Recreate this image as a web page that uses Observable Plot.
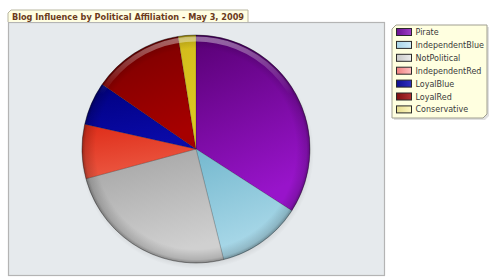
<!DOCTYPE html>
<html>
<head>
<meta charset="utf-8">
<script src="https://cdn.jsdelivr.net/npm/d3@7"></script>
<script src="https://cdn.jsdelivr.net/npm/@observablehq/plot@0.6"></script>
<style>
  html, body { margin: 0; padding: 0; background: #ffffff; }
  #chart svg { display: block; }
</style>
</head>
<body>
<div id="chart"></div>
<script>
// ---- data ----
const title = "Blog Influence by Political Affiliation - May 3, 2009";
const categories = ["Pirate", "IndependentBlue", "NotPolitical", "IndependentRed", "LoyalBlue", "LoyalRed", "Conservative"];
const values = [34.1, 12.0, 24.7, 7.7, 6.1, 12.9, 2.5];
// slice gradient colours (top, bottom)
const sliceTop    = ["#580074", "#74b8ce", "#a2a2a2", "#de2c18", "#000080", "#760000", "#d2ba1a"];
const sliceBottom = ["#9814ca", "#acdaea", "#d0d0d0", "#ec5842", "#0a0aa8", "#a60000", "#dcc822"];
// legend swatch colours (dark, light)
const swatchDark  = ["#6a1090", "#a8d4e8", "#c8c8c8", "#f08080", "#101090", "#801010", "#e6dc90"];
const swatchLight = ["#a040c8", "#d0ecf8", "#ececec", "#ffc0c0", "#3030c0", "#b03030", "#fff8c0"];

const slices = categories.map((c, i) => ({category: c, value: values[i], i}));

const FONT = "'DejaVu Sans', Verdana, sans-serif";

function svgEl(tag, attrs) {
  const e = document.createElementNS("http://www.w3.org/2000/svg", tag);
  for (const k in attrs) e.setAttribute(k, attrs[k]);
  return e;
}

// pie mark: uses the x/y scales for centre and radius
function pieMark(index, scales) {
  const {x, y} = scales;
  const cx = x(0), cy = y(0), R = x(1) - x(0);
  const g = svgEl("g", {});
  const defs = svgEl("defs", {});
  g.appendChild(defs);
  slices.forEach(d => {
    const lg = svgEl("linearGradient", {id: "sg" + d.i, x1: 0, y1: 0, x2: 0.3, y2: 1});
    lg.appendChild(svgEl("stop", {offset: "0", "stop-color": sliceTop[d.i]}));
    lg.appendChild(svgEl("stop", {offset: "1", "stop-color": sliceBottom[d.i]}));
    defs.appendChild(lg);
  });
  const rim = svgEl("radialGradient", {id: "rim", cx: 0.5, cy: 0.5, r: 0.5});
  rim.appendChild(svgEl("stop", {offset: "0.88", "stop-color": "#000", "stop-opacity": 0}));
  rim.appendChild(svgEl("stop", {offset: "0.97", "stop-color": "#000", "stop-opacity": 0.15}));
  rim.appendChild(svgEl("stop", {offset: "1", "stop-color": "#000", "stop-opacity": 0.35}));
  defs.appendChild(rim);
  const hl = svgEl("linearGradient", {id: "hl", x1: 0, y1: 0, x2: 0, y2: 1});
  hl.appendChild(svgEl("stop", {offset: "0", "stop-color": "#fff", "stop-opacity": 0.4}));
  hl.appendChild(svgEl("stop", {offset: "0.25", "stop-color": "#fff", "stop-opacity": 0}));
  defs.appendChild(hl);
  const sh = svgEl("radialGradient", {id: "shadow", cx: 0.5, cy: 0.5, r: 0.5});
  sh.appendChild(svgEl("stop", {offset: "0.9", "stop-color": "#000", "stop-opacity": 0.15}));
  sh.appendChild(svgEl("stop", {offset: "1", "stop-color": "#000", "stop-opacity": 0}));
  defs.appendChild(sh);

  // soft shadow
  g.appendChild(svgEl("circle", {cx: cx + 1, cy: cy + 3, r: R + 3, fill: "url(#shadow)"}));

  const pie = d3.pie().sort(null).value(d => d.value);
  const arc = d3.arc().innerRadius(0).outerRadius(R);
  const gs = svgEl("g", {transform: `translate(${cx},${cy})`});
  pie(slices).forEach(a => {
    gs.appendChild(svgEl("path", {
      d: arc(a), fill: `url(#sg${a.data.i})`,
      stroke: "rgba(0,0,0,0.28)", "stroke-width": 0.6, "stroke-linejoin": "round"
    }));
  });
  g.appendChild(gs);
  // edge darkening
  g.appendChild(svgEl("circle", {cx, cy, r: R, fill: "url(#rim)"}));
  // top highlight band
  g.appendChild(svgEl("circle", {cx, cy, r: R - 4, fill: "none", stroke: "url(#hl)", "stroke-width": 5}));
  // outline
  g.appendChild(svgEl("circle", {cx, cy, r: R, fill: "none", stroke: "rgba(0,0,0,0.3)", "stroke-width": 0.8}));
  return g;
}

// title tab
function titleMark() {
  const g = svgEl("g", {});
  const x0 = 8, x1 = 248, y0 = 10, y1 = 22, c = 3;
  g.appendChild(svgEl("path", {
    d: `M${x0},${y1}V${y0 + c}L${x0 + c},${y0}H${x1}V${y1}`,
    fill: "#fffee2", stroke: "#b9b6a0", "stroke-width": 1
  }));
  const t = svgEl("text", {
    x: 12, y: 19.5, fill: "#6b3a1c", "font-family": FONT, "font-weight": "bold",
    "font-size": 8, "text-anchor": "start", textLength: 232, lengthAdjust: "spacingAndGlyphs"
  });
  t.textContent = title;
  g.appendChild(t);
  return g;
}

// legend box
function legendMark() {
  const g = svgEl("g", {});
  const x0 = 392, x1 = 487, y0 = 25, y1 = 118, c = 4;
  const defs = svgEl("defs", {});
  g.appendChild(defs);
  g.appendChild(svgEl("path", {
    d: `M${x0 + c + 2},${y0 + 2}H${x1 + 2}V${y1 + 2 - c}L${x1 + 2 - c},${y1 + 2}H${x0 + 2}V${y0 + c + 2}Z`,
    fill: "rgba(0,0,0,0.12)"
  }));
  g.appendChild(svgEl("path", {
    d: `M${x0 + c},${y0}H${x1}V${y1 - c}L${x1 - c},${y1}H${x0}V${y0 + c}Z`,
    fill: "#ffffe0", stroke: "#a09f90", "stroke-width": 1
  }));
  categories.forEach((cat, i) => {
    const lg = svgEl("linearGradient", {id: "lg" + i, x1: 0, y1: 0, x2: 1, y2: 0});
    lg.appendChild(svgEl("stop", {offset: "0", "stop-color": swatchDark[i]}));
    lg.appendChild(svgEl("stop", {offset: "1", "stop-color": swatchLight[i]}));
    defs.appendChild(lg);
    const cy = 32 + i * 12.9;
    g.appendChild(svgEl("rect", {
      x: 396.5, y: cy - 3.5, width: 15, height: 7, fill: `url(#lg${i})`,
      stroke: "#2a2a2a", "stroke-width": 1
    }));
    const t = svgEl("text", {
      x: 415.5, y: cy + 3, fill: "#3a3a3a", "font-family": FONT, "font-size": 8,
      "text-anchor": "start"
    });
    t.textContent = cat;
    g.appendChild(t);
  });
  return g;
}

const chart = Plot.plot({
  width: 495,
  height: 278,
  marginLeft: 8,
  marginRight: 111,
  marginTop: 22,
  marginBottom: 3,
  style: {background: "#ffffff", fontFamily: FONT},
  x: {domain: [-1, 1], range: [82, 310], axis: null},
  y: {domain: [-1, 1], range: [263, 35], axis: null},
  marks: [
    Plot.frame({fill: "#e6eaed", stroke: "#b4b4b4", strokeWidth: 1.2}),
    pieMark,
    titleMark,
    legendMark
  ]
});
document.getElementById("chart").appendChild(chart);
</script>
</body>
</html>
